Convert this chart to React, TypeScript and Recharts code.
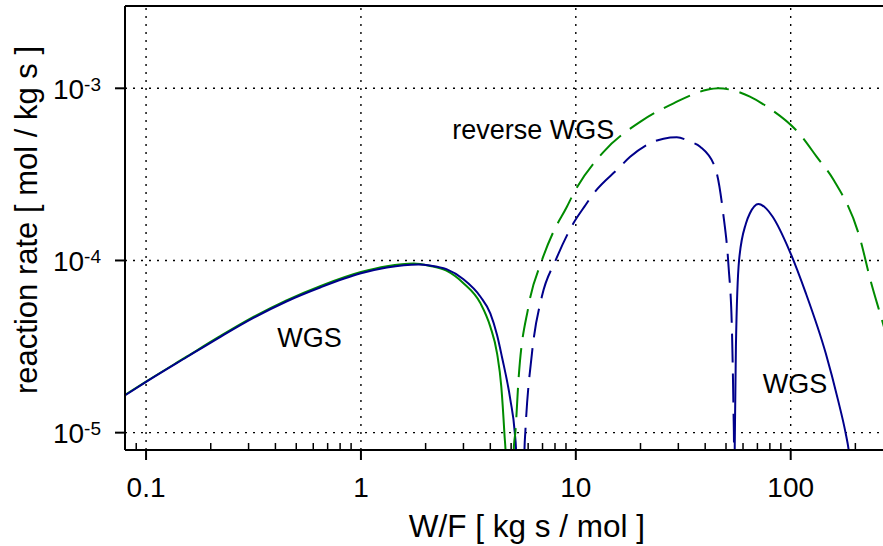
import { Label, Line, LineChart, ReferenceDot, ReferenceLine, XAxis, YAxis } from 'recharts';

const FONT = '"Liberation Sans", Arial, Helvetica, sans-serif';
const BLUE = '#00008b';
const GREEN = '#008b00';

// axis ticks
const xMajor = [0.1, 1, 10, 100];
const xMajorLabels = ['0.1', '1', '10', '100'];
const xMinor = [0.08, 0.09, 0.2, 0.3, 0.4, 0.5, 0.6, 0.7, 0.8, 0.9, 2, 3, 4, 5, 6, 7, 8, 9, 20, 30, 40, 50, 60, 70, 80, 90, 200];
const yMajor = [1e-3, 1e-4, 1e-5];
const yExponents = ['-3', '-4', '-5'];

const xDomain = [0.0798, 268.9];
const yDomain = [7.93e-6, 3.006e-3];

// W/F [kg s/mol], rate [mol/kg s]
const wgsGreen = [
  [0.08, 1.66e-5], [0.1, 1.98e-5], [0.155, 2.77e-5], [0.22, 3.62e-5], [0.316, 4.7e-5], [0.45, 5.87e-5],
  [0.65, 7.12e-5], [1.0, 8.57e-5], [1.32, 9.27e-5], [1.76, 9.62e-5], [2.1, 9.3e-5], [2.5, 8.73e-5],
  [3.0, 7.38e-5], [3.6, 5.64e-5], [4.0, 4.13e-5], [4.3, 2.89e-5], [4.5, 1.85e-5], [4.65, 1.0e-5],
  [4.75, 6e-6], [4.8, 1e-7],
];
const wgsBlue = [
  [0.08, 1.65e-5], [0.1, 1.97e-5], [0.155, 2.75e-5], [0.22, 3.58e-5], [0.316, 4.64e-5], [0.45, 5.78e-5],
  [0.65, 6.99e-5], [1.0, 8.42e-5], [1.32, 9.1e-5], [1.85, 9.48e-5], [2.1, 9.35e-5], [2.5, 8.9e-5],
  [3.0, 7.78e-5], [3.6, 6.16e-5], [4.0, 4.93e-5], [4.3, 3.69e-5], [4.53, 2.76e-5], [4.96, 1.55e-5],
  [5.2, 1.0e-5], [5.28, 7.5e-6], [5.33, 1e-7],
];
const reverseGreen = [
  [5.08, 1e-7], [5.15, 8.3e-6], [5.23, 1.0e-5], [5.41, 2.02e-5], [6.02, 5.4e-5], [6.95, 1.0e-4],
  [7.87, 1.47e-4], [9.09, 2.05e-4], [9.76, 2.45e-4], [13.5, 4.29e-4], [20, 6.4e-4], [28.5, 8.18e-4],
  [40.8, 9.8e-4], [46, 1.0e-3], [53.3, 9.77e-4], [64.6, 8.94e-4], [77.6, 7.82e-4], [111, 5.36e-4],
  [132, 4.01e-4], [158.5, 2.93e-4], [211, 1.32e-4], [235, 7.7e-5], [266, 4.51e-5], [275, 3.9e-5],
];
const reverseBlue = [
  [5.7, 1e-7], [5.77, 8e-6], [5.82, 1.0e-5], [6.25, 2.89e-5], [6.95, 6.17e-5], [8.05, 1.0e-4],
  [9.76, 1.65e-4], [11.1, 2.1e-4], [12.1, 2.45e-4], [15.8, 3.43e-4], [17.9, 4.0e-4], [23, 4.9e-4],
  [25.6, 5.1e-4], [29.5, 5.19e-4], [34.1, 4.9e-4], [37.9, 4.58e-4], [44.6, 3.43e-4], [48.5, 1.88e-4],
  [51.4, 9.2e-5], [53.3, 3.9e-5], [54.2, 1.3e-5], [54.5, 8e-6], [54.6, 1e-7],
];
const wgsBlue2 = [
  [54.7, 1e-7], [54.9, 8e-6], [55.0, 1.0e-5], [55.6, 3.16e-5], [57.5, 1.0e-4], [61.9, 1.64e-4],
  [64.6, 1.88e-4], [70.8, 2.13e-4], [77, 2.0e-4], [82.3, 1.8e-4], [98.4, 1.15e-4], [117.6, 6.46e-5],
  [145.6, 2.89e-5], [166, 1.55e-5], [180, 1.0e-5], [186, 8e-6], [200, 3e-6],
];

const toPts = (arr: number[][]) => arr.map(([x, y]) => ({ x, y }));

function XTick(props: any) {
  const { x, y, payload } = props;
  const i = xMajor.indexOf(payload.value);
  if (i < 0) return <line x1={x} x2={x} y1={y} y2={y - 7} stroke="#000" strokeWidth={1.5} />;
  return (
    <g>
      <line x1={x} x2={x} y1={y} y2={y + 10} stroke="#000" strokeWidth={2} />
      <text x={x} y={y + 47} textAnchor="middle" fontSize={28} fontFamily={FONT} fill="#000">
        {xMajorLabels[i]}
      </text>
    </g>
  );
}

function YTick(props: any) {
  const { x, y, payload } = props;
  const i = yMajor.indexOf(payload.value);
  return (
    <g>
      <line x1={x - 10} x2={x} y1={y} y2={y} stroke="#000" strokeWidth={2} />
      <text x={x - 24} y={y + 10.5} textAnchor="end" fontSize={28} fontFamily={FONT} fill="#000">
        10<tspan dy={-8} fontSize={19}>{yExponents[i]}</tspan>
      </text>
    </g>
  );
}

const note = (text: string) => (
  <Label value={text} position="center" fill="#000" fontSize={27} fontFamily={FONT} />
);

export default function App() {
  const grid = { stroke: '#000', strokeWidth: 1.4, strokeDasharray: '2 6', ifOverflow: 'visible' as const };
  const dash = '29 11';
  return (
    <div style={{ position: 'absolute', left: 0, top: 0, width: 883, height: 546, background: '#fff', overflow: 'hidden' }}>
      <LineChart width={883} height={546} margin={{ top: 6, right: 0, bottom: 0, left: 0 }} style={{ fontFamily: FONT }}>
        <XAxis
          type="number"
          dataKey="x"
          scale="log"
          domain={xDomain}
          allowDataOverflow
          ticks={[...xMajor, ...xMinor]}
          interval={0}
          tick={(p: any) => <XTick {...p} />}
          tickLine={false}
          tickSize={0}
          tickMargin={0}
          axisLine={{ stroke: '#000', strokeWidth: 2 }}
          height={96}
        >
          <Label
            content={(p: any) => {
              const vb = p.viewBox ?? { x: 125, y: 450, width: 758, height: 96 };
              return (
                <text x={vb.x + vb.width / 2 + 23} y={vb.y + 87} textAnchor="middle" fontSize={31.5} fontFamily={FONT} fill="#000">
                  W/F [ kg s / mol ]
                </text>
              );
            }}
          />
        </XAxis>
        <YAxis
          type="number"
          dataKey="y"
          scale="log"
          domain={yDomain}
          allowDataOverflow
          ticks={yMajor}
          interval={0}
          tick={(p: any) => <YTick {...p} />}
          tickLine={false}
          tickSize={0}
          tickMargin={0}
          axisLine={{ stroke: '#000', strokeWidth: 2 }}
          width={125}
        >
          <Label
            content={(p: any) => {
              const vb = p.viewBox ?? { x: 0, y: 6, width: 125, height: 444 };
              const cx = vb.x + 37;
              const cy = vb.y + vb.height / 2 - 8;
              return (
                <text x={cx} y={cy} transform={`rotate(-90 ${cx} ${cy})`} textAnchor="middle" fontSize={31} fontFamily={FONT} fill="#000">
                  reaction rate [ mol / kg s ]
                </text>
              );
            }}
          />
        </YAxis>

        {xMajor.map((v) => (
          <ReferenceLine key={`gx${v}`} x={v} {...grid} />
        ))}
        {yMajor.map((v) => (
          <ReferenceLine key={`gy${v}`} y={v} {...grid} />
        ))}
        <ReferenceLine y={yDomain[1]} stroke="#000" strokeWidth={2} ifOverflow="visible" />

        <Line data={toPts(wgsGreen)} dataKey="y" type="monotone" stroke={GREEN} strokeWidth={2} dot={false} isAnimationActive={false} />
        <Line data={toPts(wgsBlue)} dataKey="y" type="monotone" stroke={BLUE} strokeWidth={2} dot={false} isAnimationActive={false} />
        <Line data={toPts(reverseGreen)} dataKey="y" type="monotone" stroke={GREEN} strokeWidth={2} strokeDasharray={dash} dot={false} isAnimationActive={false} />
        <Line data={toPts(reverseBlue)} dataKey="y" type="monotone" stroke={BLUE} strokeWidth={2} strokeDasharray={dash} dot={false} isAnimationActive={false} />
        <Line data={toPts(wgsBlue2)} dataKey="y" type="monotone" stroke={BLUE} strokeWidth={2} dot={false} isAnimationActive={false} />

        <ReferenceDot x={0.5765} y={3.556e-5} r={0} fill="none" stroke="none" label={note('WGS')} />
        <ReferenceDot x={6.34} y={5.75e-4} r={0} fill="none" stroke="none" label={note('reverse WGS')} />
        <ReferenceDot x={104.7} y={1.94e-5} r={0} fill="none" stroke="none" label={note('WGS')} />
      </LineChart>
    </div>
  );
}
